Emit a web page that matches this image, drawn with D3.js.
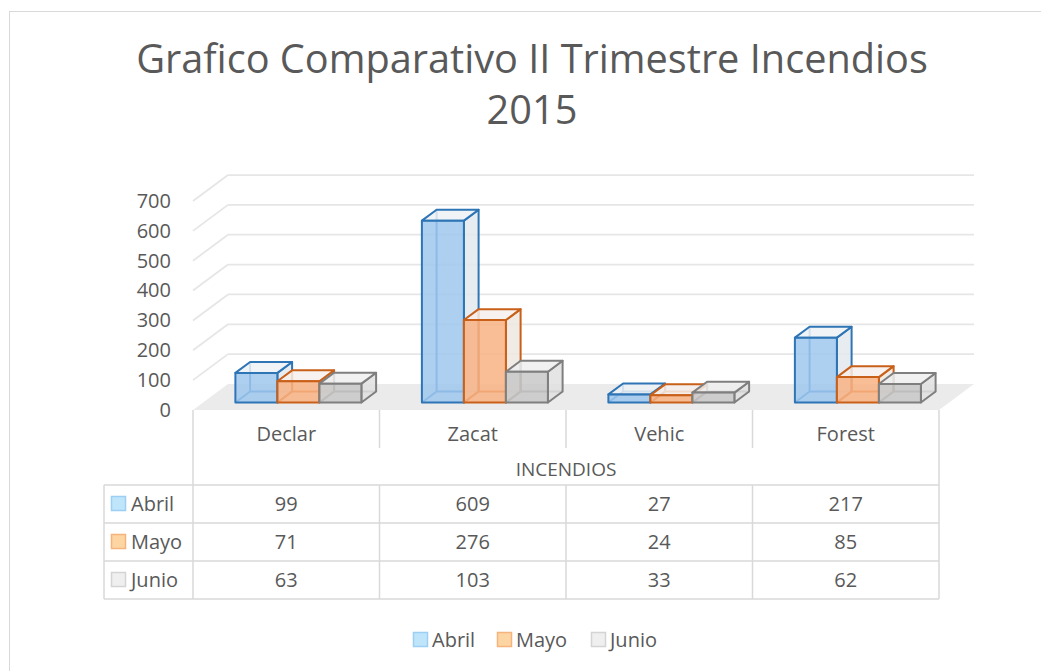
<!DOCTYPE html>
<html>
<head>
<meta charset="utf-8">
<script src="https://cdn.jsdelivr.net/npm/d3@7"></script>
<style>
  body { margin: 0; background: #fff; }
  text { font-family: "Open Sans", sans-serif; fill: #595959; }
</style>
</head>
<body>
<div id="chart"></div>
<script>
// data
const categories = ["Declar", "Zacat", "Vehic", "Forest"];
const series = ["Abril", "Mayo", "Junio"];
const abril = [99, 609, 27, 217];
const mayo = [71, 276, 24, 85];
const junio = [63, 103, 33, 62];
const yTicks = [0, 100, 200, 300, 400, 500, 600, 700];
const axisTitle = "INCENDIOS";
const titleLines = ["Grafico Comparativo II Trimestre Incendios", "2015"];

const values = [abril, mayo, junio];

const width = 1041, height = 671;
const floorY = 410;          // front edge of the floor
const left = 193, right = 939;
const DX = 35, DY = -26;     // depth vector of the 3d box
const z0 = 0.29, z1 = 0.71;  // depth slice taken by the bars

const colors = [
  { front: "#9fc8ee", side: "#e3e9ef", top: "#eef2f6", stroke: "#2e75b6", key: "#bfe5fb", keyStroke: "#9ccff2" },
  { front: "#f8b384", side: "#efe7e2", top: "#f6f0ec", stroke: "#c9601a", key: "#fdd5a2", keyStroke: "#f5b47e" },
  { front: "#c8c8c8", side: "#e0e0e0", top: "#eeeeee", stroke: "#7f7f7f", key: "#efefef", keyStroke: "#d4d4d4" }
];

const h = d3.scaleLinear().domain([0, 700]).range([0, 209]);
const yFront = d3.scaleLinear().domain([0, 700]).range([floorY, floorY - 209]);
const x = d3.scaleBand().domain(categories).range([left, right]);
const xInner = d3.scaleBand().domain(series).range([2, x.bandwidth() + 2]).paddingOuter(0.72);

// project a point (screen x on front plane, value, depth 0..1)
const P = (px, v, z) => [px + z * DX, floorY - h(v) + z * DY];
const poly = pts => pts.map(p => p.join(",")).join(" ");

const svg = d3.select("#chart").append("svg")
    .attr("width", width)
    .attr("height", height);

svg.append("rect")
   .attr("x", 9.5).attr("y", 11.5)
   .attr("width", width + 20).attr("height", height + 20)
   .attr("fill", "#fff")
   .attr("stroke", "#d9d9d9");

// title
svg.append("g").selectAll("text")
   .data(titleLines)
   .enter().append("text")
   .attr("x", 532)
   .attr("y", (d, i) => 73 + i * 51)
   .attr("text-anchor", "middle")
   .attr("font-size", 39.7)
   .text(d => d);

// floor
svg.append("polygon")
   .attr("points", poly([P(left, 0, 0), P(left, 0, 1), P(right, 0, 1), P(right, 0, 0)]))
   .attr("fill", "#ebebeb");

// gridlines: side wall diagonals + back wall horizontals
const grid = svg.append("g").attr("stroke", "#e6e6e6").attr("stroke-width", 1.75).attr("fill", "none");
grid.selectAll("line.side")
    .data(yTicks.filter(d => d > 0))
    .enter().append("line")
    .attr("x1", d => P(left, d, 0)[0]).attr("y1", d => P(left, d, 0)[1])
    .attr("x2", d => P(left, d, 1)[0]).attr("y2", d => P(left, d, 1)[1]);
grid.selectAll("line.back")
    .data(yTicks.filter(d => d > 0))
    .enter().append("line")
    .attr("x1", d => P(left, d, 1)[0]).attr("y1", d => P(left, d, 1)[1])
    .attr("x2", d => P(right, d, 1)[0]).attr("y2", d => P(right, d, 1)[1]);

// y axis labels
const yAxis = d3.axisLeft(yFront).tickValues(yTicks).tickSize(0).tickPadding(22);
svg.append("g")
   .attr("transform", "translate(" + left + ",0)")
   .call(yAxis)
   .call(g => g.select(".domain").remove())
   .selectAll("text")
   .attr("font-family", "Open Sans, sans-serif")
   .attr("font-size", 20)
   .attr("fill", "#595959");

// bars
const bars = [];
categories.forEach((c, ci) => {
  series.forEach((s, si) => {
    bars.push({ cat: c, s: si, v: values[si][ci] });
  });
});

bars.forEach(b => {
  const c = colors[b.s];
  const x0 = x(b.cat) + xInner(series[b.s]);
  const x1 = x0 + xInner.bandwidth();
  const fbl = P(x0, 0, z0), fbr = P(x1, 0, z0), ftl = P(x0, b.v, z0), ftr = P(x1, b.v, z0);
  const bbl = P(x0, 0, z1), bbr = P(x1, 0, z1), btl = P(x0, b.v, z1), btr = P(x1, b.v, z1);
  const g = svg.append("g")
      .attr("stroke", c.stroke)
      .attr("stroke-width", 2)
      .attr("stroke-linejoin", "round");
  // hidden edges, seen through the glass
  g.append("polyline").attr("fill", "none").attr("points", poly([fbl, bbl, bbr]));
  g.append("line").attr("x1", bbl[0]).attr("y1", bbl[1]).attr("x2", btl[0]).attr("y2", btl[1]);
  g.append("polygon").attr("points", poly([fbr, bbr, btr, ftr])).attr("fill", c.side).attr("fill-opacity", 0.85);
  g.append("polygon").attr("points", poly([ftl, ftr, btr, btl])).attr("fill", c.top).attr("fill-opacity", 0.85);
  g.append("polygon").attr("points", poly([fbl, fbr, ftr, ftl])).attr("fill", c.front).attr("fill-opacity", 0.85);
});

// data table
const tableTop = floorY, titleRow = 448, rowH = 38, rows0 = 485, keyLeft = 104;
const table = svg.append("g").attr("stroke", "#d9d9d9").attr("stroke-width", 1.5);
table.selectAll("line.sep")
     .data(categories.slice(1))
     .enter().append("line")
     .attr("x1", d => x(d)).attr("x2", d => x(d))
     .attr("y1", tableTop).attr("y2", titleRow);
table.selectAll("line.col")
     .data(categories.slice(1))
     .enter().append("line")
     .attr("x1", d => x(d)).attr("x2", d => x(d))
     .attr("y1", rows0).attr("y2", rows0 + rowH * series.length);
[left, right].forEach(px => {
  table.append("line").attr("x1", px).attr("x2", px).attr("y1", tableTop).attr("y2", rows0 + rowH * series.length);
});
table.append("line").attr("x1", keyLeft).attr("x2", keyLeft).attr("y1", rows0).attr("y2", rows0 + rowH * series.length);
d3.range(series.length + 1).forEach(i => {
  table.append("line")
       .attr("x1", keyLeft).attr("x2", right)
       .attr("y1", rows0 + i * rowH).attr("y2", rows0 + i * rowH);
});

svg.append("g").selectAll("text")
   .data(categories)
   .enter().append("text")
   .attr("x", d => x(d) + x.bandwidth() / 2)
   .attr("y", 434)
   .attr("dy", "0.35em")
   .attr("text-anchor", "middle")
   .attr("font-size", 20)
   .text(d => d);

svg.append("text")
   .attr("x", (left + right) / 2)
   .attr("y", 469)
   .attr("dy", "0.35em")
   .attr("text-anchor", "middle")
   .attr("font-size", 19)
   .text(axisTitle);

series.forEach((s, si) => {
  const cy = rows0 + si * rowH + rowH / 2;
  svg.append("rect")
     .attr("x", 111.5).attr("y", cy - 7.5)
     .attr("width", 14).attr("height", 14)
     .attr("fill", colors[si].key)
     .attr("stroke", colors[si].keyStroke)
     .attr("stroke-width", 1.5);
  svg.append("text")
     .attr("x", 131).attr("y", cy).attr("dy", "0.35em")
     .attr("font-size", 20)
     .text(s);
  svg.append("g").selectAll("text")
     .data(values[si])
     .enter().append("text")
     .attr("x", (d, ci) => x(categories[ci]) + x.bandwidth() / 2)
     .attr("y", cy).attr("dy", "0.35em")
     .attr("text-anchor", "middle")
     .attr("font-size", 20)
     .text(d => d);
});

// legend
const legendX = [413, 497, 591];
const legend = svg.append("g").selectAll("g")
   .data(series)
   .enter().append("g")
   .attr("transform", (d, i) => "translate(" + legendX[i] + ",640)");
legend.append("rect")
      .attr("x", 0.5).attr("y", -7.5)
      .attr("width", 14).attr("height", 14)
      .attr("fill", (d, i) => colors[i].key)
      .attr("stroke", (d, i) => colors[i].keyStroke)
      .attr("stroke-width", 1.5);
legend.append("text")
      .attr("x", 19).attr("dy", "0.35em")
      .attr("font-size", 20)
      .text(d => d);
</script>
</body>
</html>
